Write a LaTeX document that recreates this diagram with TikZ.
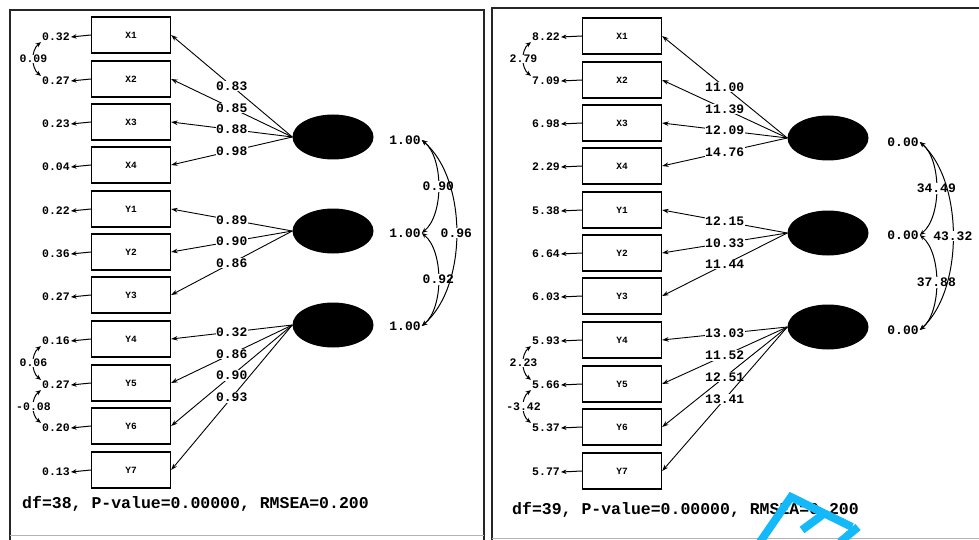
\documentclass[tikz,border=0pt]{standalone}
\usepackage{fontspec}
\setmainfont{Liberation Mono}
\usetikzlibrary{shapes.geometric,arrows.meta}
\tikzset{
  frame/.style={line width=2pt, draw=black!85},
  obs/.style={draw, line width=1.3pt, minimum width=79pt, minimum height=36pt, inner sep=0pt, font=\fontsize{9.5}{9.5}\selectfont\bfseries},
  lat/.style={ellipse, fill=black, minimum width=81pt, minimum height=45pt, inner sep=0pt},
  lbl/.style={fill=white, inner sep=0.6pt, font=\fontsize{13}{13}\selectfont\bfseries},
  vlbl/.style={inner sep=1pt, font=\fontsize{13}{13}\selectfont\bfseries},
  elbl/.style={inner sep=1pt, font=\fontsize{11.5}{11.5}\selectfont\bfseries},
  clbl/.style={fill=white, inner sep=0.5pt, font=\fontsize{11.5}{11.5}\selectfont\bfseries},
  load/.style={line width=0.9pt, -{Stealth[length=6.5pt,width=4.5pt]}},
  errarr/.style={line width=1pt, -{Stealth[length=5.5pt,width=4.5pt]}},
  covarr/.style={line width=1pt, {Stealth[length=5.5pt,width=4.5pt]}-{Stealth[length=5.5pt,width=4.5pt]}},
  fitline/.style={anchor=west, inner sep=0pt, font=\fontsize{16.5}{16.5}\selectfont\bfseries},
  wmark/.style={line width=8pt, draw={rgb,255:red,20;green,185;blue,250}, line cap=butt}
}
\begin{document}
\begin{tikzpicture}[x=1pt,y=-1pt]
\useasboundingbox (0,0) rectangle (979,540);
% frames
\draw[frame] (10,545) -- (10,10) -- (484,10) -- (484,545);
\draw[frame] (492,545) -- (492,8) -- (979,8);
\draw[black!30, line width=0.6pt] (10,535) -- (484,535);
\draw[black!30, line width=0.6pt] (492,538) -- (979,538);

% observed variables and error terms
\foreach \id/\txt/\yy/\el/\er in {1/X1/35/0.32/8.22, 2/X2/79/0.27/7.09, 3/X3/122/0.23/6.98, 4/X4/165/0.04/2.29, 5/Y1/209/0.22/5.38, 6/Y2/252/0.36/6.64, 7/Y3/295/0.27/6.03, 8/Y4/339/0.16/5.93, 9/Y5/383/0.27/5.66, 10/Y6/426/0.20/5.37, 11/Y7/470/0.13/5.77}{
  \node[obs] (Lb\id) at (131,\yy) {\txt};
  \node[obs] (Rb\id) at (622,\yy+1) {\txt};
  \node[elbl] (LD\id) at (56,\yy+2) {\el};
  \node[elbl] (RD\id) at (546,\yy+2) {\er};
  \draw[errarr] (Lb\id.west) -- (LD\id.east);
  \draw[errarr] (Rb\id.west) -- (RD\id.east);
}

% latent variables
\node[lat] (LF1) at (333,137) {};
\node[lat] (LF2) at (333,231) {};
\node[lat] (LF3) at (333,325) {};
\node[lat] (RF1) at (828,138) {};
\node[lat] (RF2) at (828,233) {};
\node[lat] (RF3) at (828,327) {};

% loadings
\foreach \id/\f/\vl/\vr in {1/1/0.83/11.00, 2/1/0.85/11.39, 3/1/0.88/12.09, 4/1/0.98/14.76, 5/2/0.89/12.15, 6/2/0.90/10.33, 7/2/0.86/11.44, 8/3/0.32/13.03, 9/3/0.86/11.52, 10/3/0.90/12.51, 11/3/0.93/13.41}{
  \draw[load] (LF\f.west) -- node[lbl, pos=0.5] {\vl} (Lb\id.east);
  \draw[load] (RF\f.west) -- node[lbl, pos=0.5] {\vr} (Rb\id.east);
}

% error covariances
\draw[covarr] (LD1.south west) .. controls +(-10,8) and +(-10,-8) .. node[clbl] {0.09} (LD2.north west);
\draw[covarr] (LD8.south west) .. controls +(-10,8) and +(-10,-8) .. node[clbl] {0.06} (LD9.north west);
\draw[covarr] (LD9.south west) .. controls +(-10,8) and +(-10,-8) .. node[clbl] {-0.08} (LD10.north west);
\draw[covarr] (RD1.south west) .. controls +(-10,8) and +(-10,-8) .. node[clbl] {2.79} (RD2.north west);
\draw[covarr] (RD8.south west) .. controls +(-10,8) and +(-10,-8) .. node[clbl] {2.23} (RD9.north west);
\draw[covarr] (RD9.south west) .. controls +(-10,8) and +(-10,-8) .. node[clbl] {-3.42} (RD10.north west);

% factor variances
\node[vlbl] (LV1) at (405,140) {1.00};
\node[vlbl] (LV2) at (405,233) {1.00};
\node[vlbl] (LV3) at (405,326) {1.00};
\node[vlbl] (RV1) at (903,142) {0.00};
\node[vlbl] (RV2) at (903,235) {0.00};
\node[vlbl] (RV3) at (903,330) {0.00};

% factor covariances
\draw[covarr] (LV1.east) .. controls +(22,18) and +(22,-18) .. node[lbl] {0.90} (LV2.east);
\draw[covarr] (LV2.east) .. controls +(22,18) and +(22,-18) .. node[lbl] {0.92} (LV3.east);
\draw[covarr] (LV1.east) .. controls +(46,40) and +(46,-40) .. node[lbl] {0.96} (LV3.east);
\draw[covarr] (RV1.east) .. controls +(22,18) and +(22,-18) .. node[lbl] {34.49} (RV2.east);
\draw[covarr] (RV2.east) .. controls +(22,18) and +(22,-18) .. node[lbl] {37.88} (RV3.east);
\draw[covarr] (RV1.east) .. controls +(44,40) and +(44,-40) .. node[lbl] {43.32} (RV3.east);

% fit statistics
\node[fitline] (LFit) at (22,504) {df=38, P-value=0.00000, RMSEA=0.200};
\node[fitline] (RFit) at (512,510) {df=39, P-value=0.00000, RMSEA=0.200};

% cyan watermark
\draw[wmark] (760,542) -- (791,497) -- (852,527);
\draw[wmark] (802,530) -- (825,513);
\draw[wmark] (840,542) -- (858,527);
\end{tikzpicture}
\end{document}
